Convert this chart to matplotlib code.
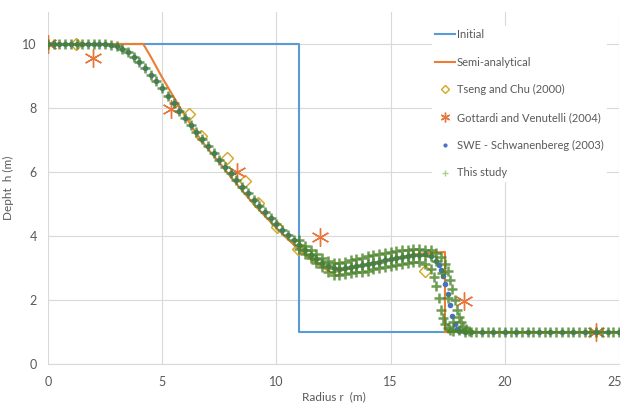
import matplotlib
matplotlib.use("Agg")
import matplotlib.pyplot as plt
import matplotlib.transforms as mtrans
from matplotlib.lines import Line2D

plt.rcParams['font.family'] = ['Lato', 'DejaVu Sans']

# ---------------- data ----------------
initial_r = [0, 11, 11, 25]
initial_h = [10, 10, 1, 1]

semi_r = [0, 4.17, 4.5, 5.0, 5.5, 6.0, 6.5, 7.0, 7.5, 8.0, 8.5, 9.0, 9.5, 10.0,
          10.5, 11.0, 11.5, 12.0, 12.42, 13.0, 14.0, 15.0, 16.0, 16.8, 17.38, 17.38, 25]
semi_h = [10, 10, 9.6, 8.95, 8.35, 7.75, 7.2, 6.72, 6.3, 5.85, 5.42, 5.0, 4.62, 4.25,
          3.9, 3.57, 3.28, 3.03, 2.85, 2.95, 3.12, 3.27, 3.42, 3.48, 3.5, 1.0, 1.0]

tseng_r = [1.23, 6.16, 6.70, 7.82, 8.63, 9.21, 10.01, 10.96, 16.5]
tseng_h = [10.0, 7.8, 7.12, 6.43, 5.72, 5.02, 4.27, 3.6, 2.9]

gott_r = [0.0, 1.95, 5.37, 8.29, 11.91, 18.21, 23.98]
gott_h = [10.0, 9.57, 7.96, 5.99, 3.98, 1.98, 1.0]

swe_r = [0.0, 0.25, 0.5, 0.75, 1.0, 1.25, 1.5, 1.75, 2.0, 2.25, 2.5, 2.75, 3.0, 3.25,
         3.5, 3.75, 4.0, 4.25, 4.5, 4.75, 5.0, 5.25, 5.5, 5.75, 6.0, 6.25, 6.5, 6.75,
         7.0, 7.25, 7.5, 7.75, 8.0, 8.25, 8.5, 8.75, 9.0, 9.25, 9.5, 9.75, 10.0, 10.25,
         10.5, 10.75, 11.0, 11.25, 11.5, 11.75, 12.0, 12.25, 12.5, 12.75, 13.0, 13.25,
         13.5, 13.75, 14.0, 14.25, 14.5, 14.75, 15.0, 15.25, 15.5, 15.75, 16.0, 16.25,
         16.5, 16.75, 17.0, 17.1, 17.2, 17.3, 17.4, 17.5, 17.6, 17.7, 17.8, 17.9, 18.0,
         18.25, 18.5, 19.0, 19.5, 20.0, 20.5, 21.0, 21.5, 22.0, 22.5, 23.0, 23.5, 24.0,
         24.5, 25.0]
swe_h = [10.0, 10.0, 10.0, 10.0, 10.0, 10.0, 10.0, 10.0, 10.0, 10.0, 10.0, 9.98, 9.93, 9.85,
         9.74, 9.6, 9.43, 9.24, 9.04, 8.84, 8.62, 8.38, 8.15, 7.92, 7.69, 7.46, 7.24, 7.02,
         6.8, 6.59, 6.38, 6.17, 5.96, 5.75, 5.54, 5.33, 5.12, 4.94, 4.76, 4.57, 4.38, 4.2,
         4.03, 3.87, 3.72, 3.57, 3.42, 3.29, 3.17, 3.07, 3.0, 2.98, 3.0, 3.03,
         3.06, 3.09, 3.12, 3.16, 3.2, 3.24, 3.28, 3.31, 3.34, 3.37, 3.4, 3.42,
         3.43, 3.38, 3.22, 3.1, 2.95, 2.75, 2.5, 2.2, 1.85, 1.5, 1.25, 1.08, 1.02,
         1.0, 1.0, 1.0, 1.0, 1.0, 1.0, 1.0, 1.0, 1.0, 1.0, 1.0, 1.0, 1.0,
         1.0, 1.0]

study_r = [0.0, 0.25, 0.5, 0.75, 1.0, 1.25, 1.5, 1.75, 2.0, 2.25, 2.5, 2.75, 3.0, 3.25,
           3.5, 3.75, 4.0, 4.25, 4.5, 4.75, 5.0, 5.25, 5.5, 5.75, 6.0, 6.25, 6.5, 6.75,
           7.0, 7.25, 7.5, 7.75, 8.0, 8.25, 8.5, 8.75, 9.0, 9.25, 9.5, 9.75, 10.0, 10.25,
           10.5, 10.75, 11.0, 11.25, 11.5, 11.75, 12.0, 12.25, 12.5, 12.75, 13.0, 13.25,
           13.5, 13.75, 14.0, 14.25, 14.5, 14.75, 15.0, 15.25, 15.5, 15.75, 16.0, 16.25,
           16.5, 16.75, 17.0, 17.25, 17.5, 17.75, 18.0, 18.25, 18.5, 18.75, 19.0, 19.25,
           19.5, 19.75, 20.0, 20.25, 20.5, 20.75, 21.0, 21.25, 21.5, 21.75, 22.0, 22.25,
           22.5, 22.75, 23.0, 23.25, 23.5, 23.75, 24.0, 24.25, 24.5, 24.75, 25.0]
study_h = [10.0, 10.0, 10.0, 10.0, 10.0, 10.0, 10.0, 10.01, 10.01, 10.01, 10.0, 9.98, 9.93, 9.85,
           9.74, 9.6, 9.43, 9.24, 9.04, 8.84, 8.62, 8.38, 8.15, 7.92, 7.69, 7.46, 7.24, 7.02,
           6.8, 6.59, 6.38, 6.17, 5.96, 5.75, 5.54, 5.33, 5.12, 4.94, 4.76, 4.57, 4.38, 4.2,
           4.03, 3.87, 3.72, 3.57, 3.42, 3.29, 3.17, 3.07, 3.0, 2.98, 3.0, 3.03,
           3.06, 3.09, 3.12, 3.16, 3.2, 3.24, 3.28, 3.31, 3.34, 3.37, 3.4, 3.42,
           3.42, 3.38, 3.22, 2.85, 2.05, 1.3, 1.06, 1.01, 1.0, 1.0, 1.0, 1.0,
           1.0, 1.0, 1.0, 1.0, 1.0, 1.0, 1.0, 1.0, 1.0, 1.0, 1.0, 1.0,
           1.0, 1.0, 1.0, 1.0, 1.0, 1.0, 1.0, 1.0, 1.0, 1.0, 1.0]

# upper / lower edges of the scattered band of "This study"
upper_r = [11.0, 11.25, 11.5, 11.75, 12.0, 12.25, 12.5, 12.75, 13.0, 13.25, 13.5, 13.75,
           14.0, 14.25, 14.5, 14.75, 15.0, 15.25, 15.5, 15.75, 16.0, 16.25, 16.5, 16.75,
           17.0, 17.2, 17.4, 17.5, 17.6, 17.7, 17.8, 17.9, 18.0, 18.1, 18.18, 18.3, 18.45]
upper_h = [3.86, 3.7, 3.55, 3.43, 3.32, 3.22, 3.16, 3.17, 3.2, 3.24, 3.28, 3.32,
           3.36, 3.4, 3.43, 3.47, 3.51, 3.53, 3.55, 3.57, 3.58, 3.58, 3.57, 3.55,
           3.48, 3.35, 3.12, 2.9, 2.63, 2.35, 2.0, 1.69, 1.48, 1.3, 1.17, 1.08, 1.03]
lower_r = [11.0, 11.25, 11.5, 11.75, 12.0, 12.25, 12.5, 12.75, 13.0, 13.25, 13.5, 13.75,
           14.0, 14.25, 14.5, 14.75, 15.0, 15.25, 15.5, 15.75, 16.0, 16.25, 16.5, 16.75,
           16.9, 17.0, 17.1, 17.2, 17.3, 17.4, 17.5, 17.6, 17.75]
lower_h = [3.6, 3.45, 3.3, 3.15, 3.02, 2.88, 2.78, 2.77, 2.8, 2.83, 2.86, 2.89,
           2.92, 2.96, 2.99, 3.02, 3.05, 3.09, 3.12, 3.15, 3.18, 3.18, 3.14, 2.98,
           2.72, 2.45, 2.05, 1.7, 1.45, 1.25, 1.12, 1.05, 1.02]

x_ticks = [0, 5, 10, 15, 20, 25]
y_ticks = [0, 2, 4, 6, 8, 10]

# ---------------- figure ----------------
fig = plt.figure(figsize=(6.24, 4.03), dpi=100)
ax = fig.add_axes([48/624, 1-364/403, (619-48)/624, 352/403])

c_init = '#5B9BD5'
c_semi = '#ED7D31'
c_tseng = '#D9A520'
c_gott = '#E8763A'
c_swe = '#4472C4'
c_study = '#4A842A'

ax.plot(initial_r, initial_h, color=c_init, lw=1.5, zorder=2)
ax.plot(semi_r, semi_h, color=c_semi, lw=1.5, zorder=3)
ax.plot(tseng_r, tseng_h, ls='none', marker='D', ms=6, mfc='none', mec=c_tseng, mew=1.0, zorder=4)
ax.plot(gott_r, gott_h, ls='none', marker=(6, 2, 0), ms=13, mec=c_gott, mew=1.0, zorder=5)
ax.plot(swe_r, swe_h, ls='none', marker='o', ms=3, mfc=c_swe, mec=c_swe, zorder=6)
for rr, hh in [(study_r, study_h), (upper_r, upper_h), (lower_r, lower_h)]:
    ax.plot(rr, hh, ls='none', marker='+', ms=7, mew=1.8, color=c_study, alpha=0.8, zorder=7)

ax.set_xlim(0, 25)
ax.set_ylim(0, 11)
ax.set_xticks(x_ticks)
ax.set_yticks(y_ticks)
ax.grid(True, color='#D9D9D9', lw=0.8, zorder=0)
ax.set_axisbelow(True)
for s in ['top', 'right', 'left']:
    ax.spines[s].set_visible(False)
ax.spines['bottom'].set_color('#D9D9D9')
ax.tick_params(length=0, labelsize=9, colors='#595959')
ax.tick_params(axis='x', pad=9)
ax.tick_params(axis='y', pad=8)
ax.set_xlabel('Radius r  (m)', fontsize=8.5, color='#595959', labelpad=2)
ax.set_ylabel('Depht  h (m)', fontsize=8.5, color='#595959', labelpad=6)

# nudge the last x tick label so it stays inside the canvas
last_lbl = ax.get_xticklabels()[-1]
last_lbl.set_transform(last_lbl.get_transform() +
                       mtrans.ScaledTranslation(-4/100, 0, fig.dpi_scale_trans))

handles = [
    Line2D([], [], color=c_init, lw=1.5),
    Line2D([], [], color=c_semi, lw=1.5),
    Line2D([], [], ls='none', marker='D', ms=4, mfc='none', mec=c_tseng, mew=1.0),
    Line2D([], [], ls='none', marker=(6, 2, 0), ms=7, mec=c_gott, mew=1.0),
    Line2D([], [], ls='none', marker='o', ms=2, color=c_swe),
    Line2D([], [], ls='none', marker='+', ms=4, mew=1, color='#A9D18E'),
]
labels = ['Initial', 'Semi-analytical', 'Tseng and Chu (2000)',
          'Gottardi and Venutelli (2004)', 'SWE - Schwanenbereg (2003)', 'This study']
leg = ax.legend(handles, labels, loc='upper left', bbox_to_anchor=(0.663, 0.977),
                frameon=True, fontsize=8, labelspacing=1.5, handlelength=1.8,
                handletextpad=0.1, borderpad=0.3, labelcolor='#595959')
leg.get_frame().set_facecolor('white')
leg.get_frame().set_edgecolor('none')
leg.get_frame().set_alpha(1.0)
leg.set_zorder(10)

fig.savefig('out.png', dpi=100)
